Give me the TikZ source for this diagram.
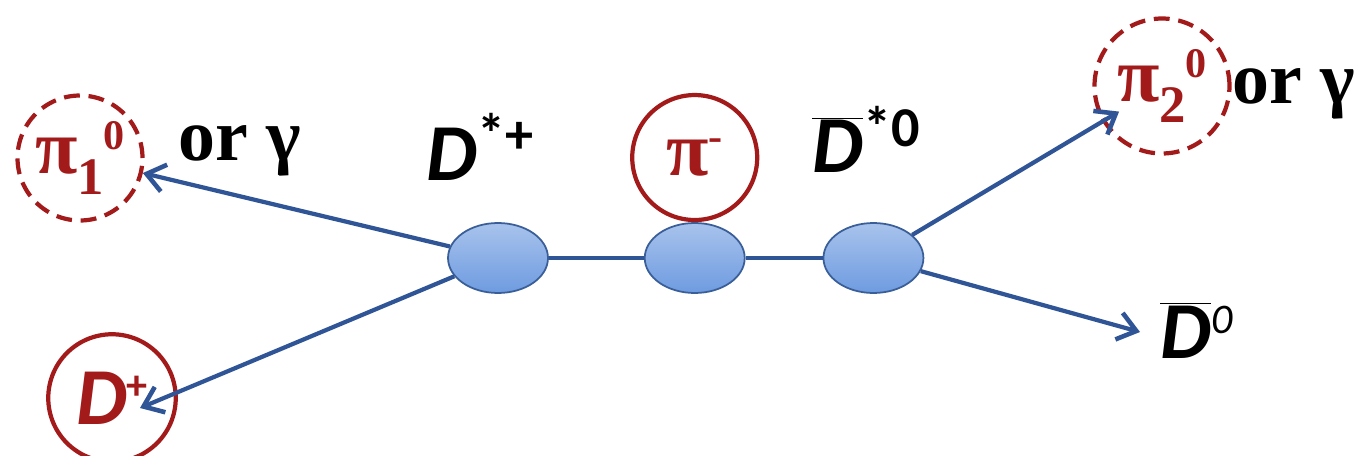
\documentclass[tikz,border=0pt]{standalone}
\usepackage{fontspec}
\setmainfont{Liberation Serif}
\newfontfamily\timesfont{Liberation Serif}
\newfontfamily\calfont{Carlito}
\usetikzlibrary{arrows.meta,positioning,shapes.geometric}
\definecolor{linecol}{HTML}{2F5597}
\definecolor{ballcol}{HTML}{6E9BE0}
\definecolor{balledge}{HTML}{3A5F98}
\definecolor{pioncol}{HTML}{A31A1A}
\newcommand{\subx}[1]{\raisebox{-12pt}{\fontsize{30}{32}\selectfont #1}}
\newcommand{\supx}[1]{\raisebox{14pt}{\fontsize{24}{26}\selectfont #1}}
\newcommand{\supl}[1]{\raisebox{15pt}{\fontsize{32}{34}\selectfont #1}}
\newcommand{\Dsym}{{\calfont\bfseries\itshape D}}
\newcommand{\Dbar}{$\overline{\mbox{\Dsym}}$}

\begin{document}
\begin{tikzpicture}[x=0.02cm,y=-0.02cm,
  vtx/.style={ellipse,draw=balledge,line width=1pt,top color=ballcol!60,
              bottom color=ballcol,minimum width=2cm,minimum height=1.4cm},
  ring/.style={circle,draw=pioncol,line width=2.4pt,minimum size=2.5cm,
               inner sep=0pt,text=pioncol,font=\fontsize{44}{48}\selectfont\timesfont\bfseries},
  dring/.style={ring,dash pattern=on 9pt off 5pt},
  ar/.style={-{Straight Barb[length=3.6mm,width=5.5mm,line width=2.6pt]},line width=2.4pt,linecol},
  ln/.style={line width=2.4pt,linecol},
  lab/.style={font=\fontsize{46}{50}\selectfont\calfont\bfseries},
  ortxt/.style={font=\fontsize{42}{46}\selectfont\timesfont\bfseries,inner sep=0pt},
]
\useasboundingbox (0,0) rectangle (1363,456);

% decay chain
\node[vtx] (ds) at (498,258) {};
\node[vtx,right=1.9cm of ds] (pv) {};
\node[vtx,right=1.54cm of pv] (dz) {};
\draw[ln] (ds) -- (pv);
\draw[ln] (pv) -- (dz);

% particles
\node[ring,above=0pt of pv] (pim) {π\supx{-}};
\node[dring] (pia) at (80,158) {π\subx{1}\supx{0}};
\node[ring,minimum size=2.55cm,font=\fontsize{46}{50}\selectfont] (dp) at (112,398)
  {\Dsym\supx{\calfont\bfseries +}};
\node[dring,minimum size=2.7cm] (pib) at (1162,86) {π\subx{2}\supx{0}};

% labels
\node[ortxt,anchor=base west] (orA) at (178,160) {or γ};
\node[ortxt,anchor=base west] (orB) at (1232,104) {or γ};
\node[lab,anchor=base west,inner sep=0pt] (lds) at (426,180) {\textit{D}\supl{*+}};
\node[lab,anchor=base west,inner sep=0pt] (ldz) at (812,173) {\Dbar\supl{*0}};
\node[lab,anchor=base west,inner sep=0pt] (ldb) at (1160,358)
  {\Dbar\supx{\mdseries\itshape 0}};

% decays
\draw[ar] (ds) -- (pia);
\draw[ar] (ds) -- ([shift={(28,10)}]dp.center);
\draw[ar,shorten >=1.0cm] (dz) -- (pib.center);
\draw[ar] (dz) -- ([xshift=-0.4cm]ldb.west |- 0,332);
\end{tikzpicture}
\end{document}
